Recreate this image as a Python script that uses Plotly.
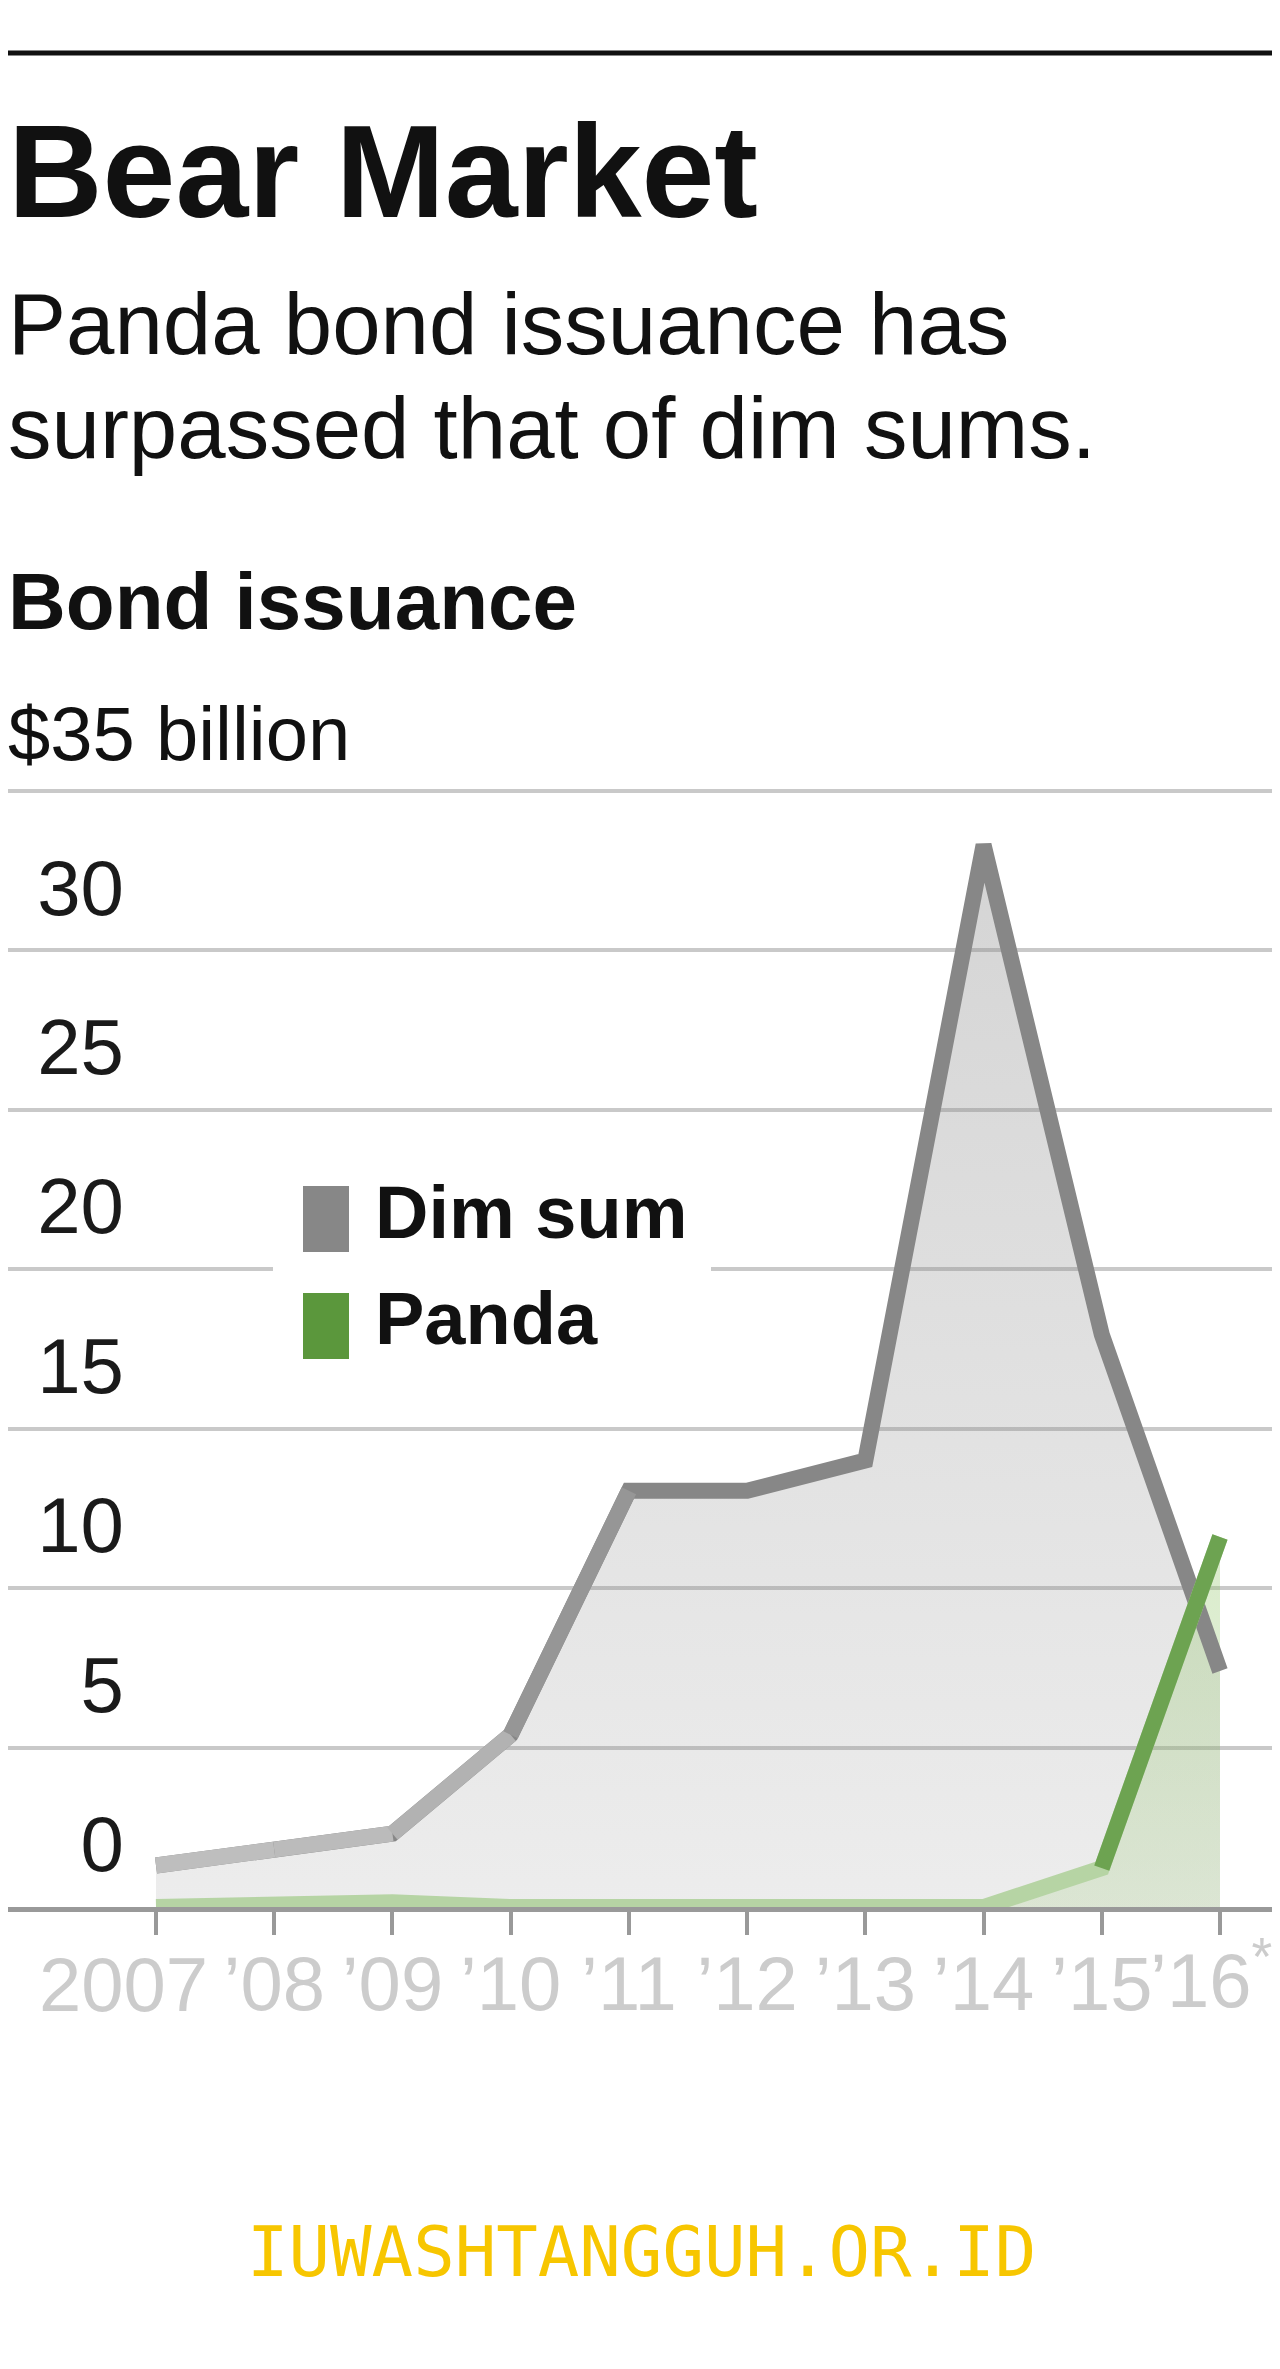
import plotly.graph_objects as go

# ---------------- data ----------------
years = [2007, 2008, 2009, 2010, 2011, 2012, 2013, 2014, 2015, 2016]
year_labels = ["2007", "\u201908", "\u201909", "\u201910", "\u201911",
               "\u201912", "\u201913", "\u201914", "\u201915", "\u201916<sup>*</sup>"]
dim_sum = [1.3, 1.8, 2.3, 5.4, 13.05, 13.05, 14.0, 33.3, 17.95, 7.4]
panda = [0.0, 0.05, 0.15, 0.0, 0.0, 0.0, 0.0, 0.0, 1.22, 11.6]
y_ticks = [0, 5, 10, 15, 20, 25, 30, 35]
y_tick_labels = ["0", "5", "10", "15", "20", "25", "30", ""]

title = "Bear Market"
subtitle_1 = "Panda bond issuance has"
subtitle_2 = "surpassed that of dim sums."
chart_title = "Bond issuance"
unit_label = "$35 billion"
legend_names = ["Dim sum", "Panda"]
watermark = "IUWASHTANGGUH.OR.ID"

# ---------------- geometry ----------------
W, H = 1280, 2369
ML, MR, MT, MB = 0, 14, 770, 470
PW, PH = W - ML - MR, H - MT - MB


def xp(px):
    return (px - ML) / PW


def yp(py):
    return (H - MB - py) / PH


def mix(c1, c2, t):
    t = max(0.0, min(1.0, t))
    a = [int(c1[i:i + 2], 16) for i in (1, 3, 5)]
    b = [int(c2[i:i + 2], 16) for i in (1, 3, 5)]
    return "rgb(%d,%d,%d)" % tuple(round(a[k] + (b[k] - a[k]) * t) for k in range(3))


FONT = "Liberation Sans, Arial, sans-serif"
GRAY_LINE = "#878787"
GREEN_LINE = "#5b973c"
XLABEL_COLOR = "#cccccc"
XLABEL_SIZE = 76

fig = go.Figure()

# fills
fig.add_trace(go.Scatter(
    x=years, y=dim_sum, mode="lines", line=dict(width=0), fill="tozeroy",
    fillgradient=dict(type="vertical",
                      colorscale=[[0, "rgba(140,140,140,0.16)"], [1, "rgba(140,140,140,0.37)"]],
                      start=0, stop=max(dim_sum)),
    hoverinfo="skip"))
fig.add_trace(go.Scatter(
    x=years, y=panda, mode="lines", line=dict(width=0), fill="tozeroy",
    fillgradient=dict(type="vertical",
                      colorscale=[[0, "rgba(150,200,110,0.20)"], [1, "rgba(150,200,110,0.36)"]],
                      start=0, stop=max(panda)),
    hoverinfo="skip"))

# dim sum line: base + lighter segments near the bottom (vertical fade)
fig.add_trace(go.Scatter(x=years, y=dim_sum, mode="lines",
                         line=dict(color=GRAY_LINE, width=16), hoverinfo="skip"))
for i in range(len(years) - 1):
    m = (dim_sum[i] + dim_sum[i + 1]) / 2
    if m < 12:
        fig.add_trace(go.Scatter(x=years[i:i + 2], y=dim_sum[i:i + 2], mode="lines",
                                 line=dict(color=mix("#c6c6c6", GRAY_LINE, m / 12), width=16),
                                 hoverinfo="skip"))

# panda line
fig.add_trace(go.Scatter(x=years, y=panda, mode="lines",
                         line=dict(color="#b6d4a4", width=16), hoverinfo="skip"))
for i in range(len(years) - 1):
    m = (panda[i] + panda[i + 1]) / 2
    if m > 1:
        fig.add_trace(go.Scatter(x=years[i:i + 2], y=panda[i:i + 2], mode="lines",
                                 line=dict(color=mix("#b6d4a4", GREEN_LINE, m / 8), width=16),
                                 hoverinfo="skip"))

shapes = [
    dict(type="line", xref="paper", yref="paper", x0=xp(0), x1=xp(1264), y0=yp(45), y1=yp(45),
         line=dict(color="#111111", width=5)),
    dict(type="rect", xref="paper", yref="paper", x0=xp(265), x1=xp(703), y0=yp(1365), y1=yp(1165),
         fillcolor="white", line=dict(width=0), layer="above"),
    dict(type="rect", xref="paper", yref="paper", x0=xp(295), x1=xp(341), y0=yp(1244), y1=yp(1178),
         fillcolor=GRAY_LINE, line=dict(width=0), layer="above"),
    dict(type="rect", xref="paper", yref="paper", x0=xp(295), x1=xp(341), y0=yp(1351), y1=yp(1285),
         fillcolor=GREEN_LINE, line=dict(width=0), layer="above"),
]


def text(s, px, baseline, size, bold=False, color="#111111", family=FONT, anchor="left"):
    return dict(text=("<b>%s</b>" % s) if bold else s, xref="paper", yref="paper",
                x=xp(px), y=yp(baseline - 0.445 * size), xanchor=anchor, yanchor="middle",
                showarrow=False, borderpad=0, borderwidth=0,
                font=dict(family=family, size=size, color=color))


annotations = [
    text(title, 0, 222, 131, bold=True),
    text(subtitle_1, 0, 354, 87),
    text(subtitle_2, 0, 458, 87),
    text(chart_title, 0, 629, 80, bold=True),
    text(unit_label, 0, 759, 76),
    text(legend_names[0], 367, 1237, 74, bold=True),
    text(legend_names[1], 367, 1343, 74, bold=True),
    text(watermark, 633, 2275, 69, color="#f7c600",
         family="DejaVu Sans Mono, Liberation Mono, monospace", anchor="center"),
]
# first and last year labels sit on their ticks but are nudged inward (as in the original)
first = text(year_labels[0], 0, 2010, XLABEL_SIZE, color=XLABEL_COLOR, anchor="right")
first.update(xref="x", x=years[0], xshift=52)
last = text(year_labels[-1], 0, 2001, XLABEL_SIZE, color=XLABEL_COLOR, anchor="right")
last.update(xref="x", x=years[-1], xshift=52)
annotations += [first, last]

tick_text = [""] + year_labels[1:-1] + [""]

x_left = years[0] - 148 / ((1212 - 148) / (len(years) - 1))
x_right = years[-1] + 54 / ((1212 - 148) / (len(years) - 1))

fig.update_layout(
    width=W, height=H, margin=dict(l=ML, r=MR, t=MT, b=MB, pad=0),
    paper_bgcolor="white", plot_bgcolor="white", showlegend=False,
    shapes=shapes, annotations=annotations,
    xaxis=dict(range=[x_left, x_right], tickmode="array", tickvals=years, ticktext=tick_text,
               tickfont=dict(family=FONT, size=XLABEL_SIZE, color=XLABEL_COLOR), tickangle=0,
               ticks="outside", ticklen=23, tickwidth=4, tickcolor="#999999",
               showline=True, linecolor="#999999", linewidth=5, showgrid=False, zeroline=False,
               layer="below traces", ticklabelstandoff=-16, fixedrange=True),
    yaxis=dict(range=[0, 35.4], anchor="free", position=xp(118), tickmode="array",
               tickvals=y_ticks, ticktext=y_tick_labels,
               tickfont=dict(family=FONT, size=78, color="#1a1a1a"),
               ticks="", showgrid=True, gridcolor="#c9c9c9", gridwidth=4,
               zeroline=False, showline=False, ticklabelshift=-63, ticklabelstandoff=2,
               fixedrange=True),
)

fig.write_html("out.html")
